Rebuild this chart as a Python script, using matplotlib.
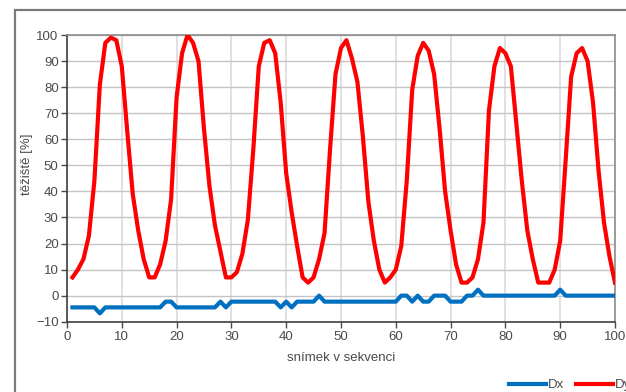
import matplotlib
matplotlib.use("Agg")
import matplotlib.pyplot as plt
from matplotlib.patches import Rectangle

plt.rcParams['font.family'] = ['Liberation Sans', 'DejaVu Sans']

# snímek 1..100
frames = list(range(1, 101))

dx = [-4.5, -4.5, -4.5, -4.5, -4.5, -6.8, -4.5, -4.5, -4.5, -4.5,
      -4.5, -4.5, -4.5, -4.5, -4.5, -4.5, -4.5, -2.3, -2.3, -4.5,
      -4.5, -4.5, -4.5, -4.5, -4.5, -4.5, -4.5, -2.3, -4.5, -2.3,
      -2.3, -2.3, -2.3, -2.3, -2.3, -2.3, -2.3, -2.3, -4.5, -2.3,
      -4.5, -2.3, -2.3, -2.3, -2.3, 0.0, -2.3, -2.3, -2.3, -2.3,
      -2.3, -2.3, -2.3, -2.3, -2.3, -2.3, -2.3, -2.3, -2.3, -2.3,
      0.0, 0.0, -2.3, 0.0, -2.3, -2.3, 0.0, 0.0, 0.0, -2.3,
      -2.3, -2.3, 0.0, 0.0, 2.3, 0.0, 0.0, 0.0, 0.0, 0.0,
      0.0, 0.0, 0.0, 0.0, 0.0, 0.0, 0.0, 0.0, 0.0, 2.3,
      0.0, 0.0, 0.0, 0.0, 0.0, 0.0, 0.0, 0.0, 0.0, 0.0]

dy = [7, 10, 14, 23, 44, 81, 97, 99, 98, 88,
      63, 39, 25, 14, 7, 7, 12, 21, 37, 76,
      93, 100, 97, 90, 64, 42, 27, 17, 7, 7,
      9, 16, 29, 56, 88, 97, 98, 93, 74, 47,
      32, 19, 7, 5, 7, 14, 24, 56, 85, 95,
      98, 91, 82, 61, 36, 21, 10, 5, 7, 10,
      19, 44, 79, 92, 97, 94, 85, 64, 40, 25,
      12, 5, 5, 7, 14, 28, 71, 88, 95, 93,
      88, 66, 44, 25, 14, 5, 5, 5, 10, 21,
      52, 84, 93, 95, 90, 74, 48, 28, 15, 5]

series_names = ['Dx', 'Dy']
x_ticks = list(range(0, 101, 10))
y_ticks = list(range(-10, 101, 10))

text_col = '#4a4a4a'
fs = 9.5

fig = plt.figure(figsize=(6.26, 3.92), dpi=100)
ax = fig.add_axes([0.107, 0.1793, 0.8754, 0.7314])

ax.plot(frames, dx, color='#0070c0', lw=3.0, label=series_names[0],
        solid_joinstyle='round', zorder=3)
ax.plot(frames, dy, color='#ff0000', lw=3.0, label=series_names[1],
        solid_joinstyle='round', zorder=3)

ax.set_xlim(0, 100)
ax.set_ylim(-10, 100)
ax.set_xticks(x_ticks)
ax.set_yticks(y_ticks)
ax.tick_params(axis='both', labelsize=fs, colors=text_col, direction='out',
               length=4, width=1)
ax.tick_params(axis='x', pad=3)
ax.tick_params(axis='y', pad=2)

ax.xaxis.grid(True, color='#dcdcdc', lw=1.2)
ax.yaxis.grid(True, color='#c4c4c4', lw=1.0)
ax.set_axisbelow(True)

for side in ['top', 'right']:
    ax.spines[side].set_color('#8c8c8c')
    ax.spines[side].set_linewidth(1.2)
for side in ['left', 'bottom']:
    ax.spines[side].set_color('#404040')
    ax.spines[side].set_linewidth(1.2)

ax.set_xlabel('snímek v sekvenci', fontsize=fs, color=text_col, labelpad=6)
fig.text(27 / 626, 1 - 164 / 392, 'těžiště [%]', rotation=90, fontsize=fs,
         color=text_col, ha='center', va='center')

fig.legend(loc='center left', bbox_to_anchor=(497 / 626, 1 - 385 / 392),
           ncol=2, frameon=False, fontsize=fs, handlelength=2.8,
           columnspacing=0.9, handletextpad=0.15, labelcolor=text_col)

# outer chart frame (cut off on right and bottom)
fig.patches.append(Rectangle((15 / 626, -0.2), 1.2, 0.2 + 1 - 10 / 392,
                             transform=fig.transFigure, fill=False,
                             edgecolor='#7a7a7a', lw=1.6))

fig.savefig('out.png', dpi=100)
